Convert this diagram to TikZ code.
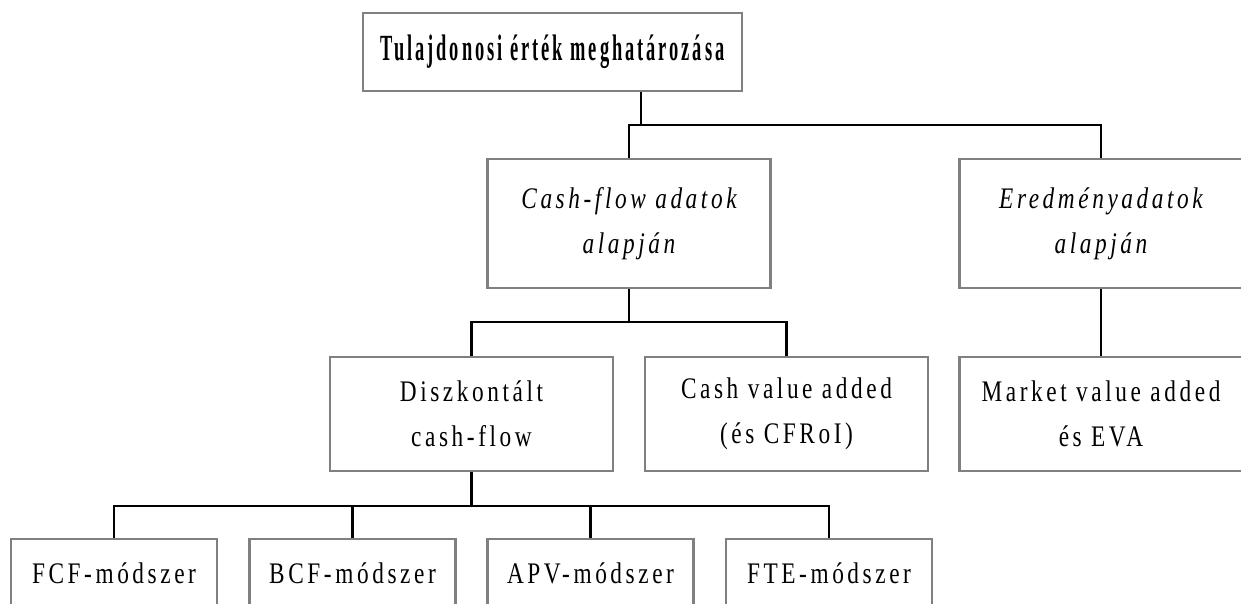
\documentclass[tikz,border=0pt]{standalone}
\usepackage{fontspec}
\newfontfamily\boxfont[FakeStretch=0.78,LetterSpace=12]{Liberation Serif}
\newfontfamily\titlefont[FakeStretch=0.5,LetterSpace=8]{Liberation Serif Bold}
\usepackage{tikz}
\usetikzlibrary{positioning,calc}
\tikzset{
  box/.style={rectangle, draw=black!50, line width=1.3pt, inner sep=0pt,
              align=center, font=\boxfont\fontsize{17pt}{25.5pt}\selectfont},
  titlebox/.style={box, minimum width=7.58cm, minimum height=1.56cm,
                   font=\titlefont\fontsize{21pt}{23pt}\selectfont},
  midbox/.style={box, minimum width=5.66cm, minimum height=2.58cm,
                 font=\boxfont\itshape\fontsize{17pt}{25.5pt}\selectfont},
  lowbox/.style={box, minimum width=5.66cm, minimum height=2.28cm},
  leafbox/.style={box, minimum width=4.12cm, minimum height=1.36cm},
  link/.style={line width=1.5pt, black},
}

\begin{document}
\begin{tikzpicture}[x=0.02cm, y=-0.02cm]
  \useasboundingbox (0,0) rectangle (1241,604);
  \clip (0,0) rectangle (1241,604);

  % top level
  \node[titlebox] (title) at (552.5,52) {Tulajdonosi érték meghatározása};
  \coordinate (j1) at (641,125);
  \node[midbox] (cf) at (629,223.5) {Cash-flow adatok\\alapján};
  \node[midbox] (er) at (1101,223.5) {Eredményadatok\\alapján};
  \draw[link] (title.south -| j1) -- (j1);
  \draw[link] (cf.north) |- (j1);
  \draw[link] (er.north) |- (j1);

  % second level
  \coordinate (j2) at (629,322);
  \node[lowbox] (disz) at (471.5,414) {Diszkontált\\cash-flow};
  \node[lowbox] (cva) at (786.5,414) {Cash value added\\(és CFRoI)};
  \node[lowbox] (mva) at (1101,414) {Market value added\\és EVA};
  \draw[link] (cf.south) -- (j2);
  \draw[link] (disz.north) |- (j2);
  \draw[link] (cva.north) |- (j2);
  \draw[link] (er.south) -- (mva.north);

  % methods
  \coordinate (j3) at (471.5,506);
  \draw[link] (disz.south) -- (j3);
  \foreach \nm/\cx/\lbl in {fcf/114/FCF-módszer, bcf/352.5/BCF-módszer,
                            apv/590.5/APV-módszer, fte/829/FTE-módszer}{
    \node[leafbox] (\nm) at (\cx,573) {\lbl};
    \draw[link] (\nm.north) |- (j3);
  }
\end{tikzpicture}
\end{document}
